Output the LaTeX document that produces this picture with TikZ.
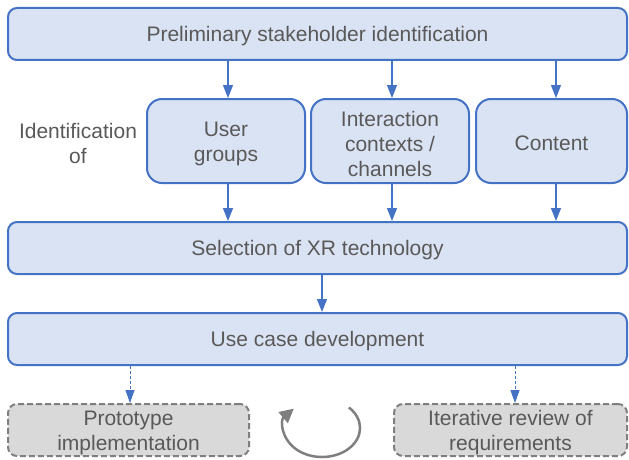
\documentclass[tikz,border=0pt]{standalone}
\usepackage{fontspec}
\setmainfont{Liberation Sans}
\usetikzlibrary{arrows.meta,calc}
\definecolor{boxfill}{HTML}{DAE3F3}
\definecolor{boxline}{HTML}{4472C4}
\definecolor{greyfill}{HTML}{D9D9D9}
\definecolor{greyline}{HTML}{7F7F7F}
\definecolor{txt}{HTML}{595959}
\begin{document}
\begin{tikzpicture}[x=1pt,y=-1pt,
  every node/.style={font=\fontsize{21}{25}\selectfont, text=txt, align=center, inner sep=0pt},
  every label/.style={font=\fontsize{21}{25}\selectfont, text=txt, align=center, inner sep=0pt, yshift=-2.5pt},
  bluebox/.style={draw=boxline, fill=boxfill, line width=2pt, rounded corners=9pt, minimum height=52pt},
  midbox/.style={bluebox, rounded corners=15pt, minimum height=84pt},
  greybox/.style={draw=greyline, fill=greyfill, line width=2pt, dash pattern=on 6pt off 3pt, rounded corners=9pt, minimum height=52pt},
  arr/.style={draw=boxline, line width=1.3pt, -{Triangle[length=13pt,width=10pt]}},
  dasharr/.style={draw=boxline, line width=1pt, dash pattern=on 3pt off 2pt, -{Triangle[length=13pt,width=9pt]}},
  loopline/.style={draw=greyline, line width=2.5pt, -{Triangle[length=14pt,width=14pt]}}
]
\useasboundingbox (0,0) rectangle (629,460);

\node[bluebox, minimum width=619pt, label={center:Preliminary stakeholder identification}] (pre) at (317.5,34) {};

\node (idof) at (78,143) {Identification\\of};
\node[midbox, minimum width=158pt, label={center:User\\groups}] (ug) at (226,141) {};
\node[midbox, minimum width=158pt, label={center:Interaction\\contexts /\\channels}] (ic) at (390,141) {};
\node[midbox, minimum width=151pt, label={center:Content}] (ct) at (551.5,141) {};

\node[bluebox, minimum width=619pt, label={center:Selection of XR technology}] (sel) at (317.5,248) {};
\node[bluebox, minimum width=619pt, label={center:Use case development}] (uc) at (317.5,339) {};

\node[greybox, minimum width=241pt, label={center:Prototype\\implementation}] (proto) at (128.5,430) {};
\node[greybox, minimum width=233pt, label={center:Iterative review of\\requirements}] (iter) at (510.5,430) {};

% stakeholder identification feeds the three identification steps
\draw[arr] (pre.south -| 228,0) -- (ug.north -| 228,0);
\draw[arr] (pre.south -| 392,0) -- (ic.north -| 392,0);
\draw[arr] (pre.south -| 556,0) -- (ct.north -| 556,0);

% identification steps feed the technology selection
\draw[arr] (ug.south -| 228,0) -- (sel.north -| 228,0);
\draw[arr] (ic.south -| 392,0) -- (sel.north -| 392,0);
\draw[arr] (ct.south -| 556,0) -- (sel.north -| 556,0);

\draw[arr] (sel.south -| 322,0) -- (uc.north -| 322,0);

% optional follow-up steps
\draw[dasharr] (uc.south -| 130,0) -- (proto.north -| 130,0);
\draw[dasharr] (uc.south -| 515,0) -- (iter.north -| 515,0);

% iteration loop symbol
\coordinate (loopc) at (322,428);
\draw[loopline] ($(loopc)+(26.9pt,20.5pt)$) arc[start angle=45, end angle=-222, x radius=38pt, y radius=29pt];
\end{tikzpicture}
\end{document}
